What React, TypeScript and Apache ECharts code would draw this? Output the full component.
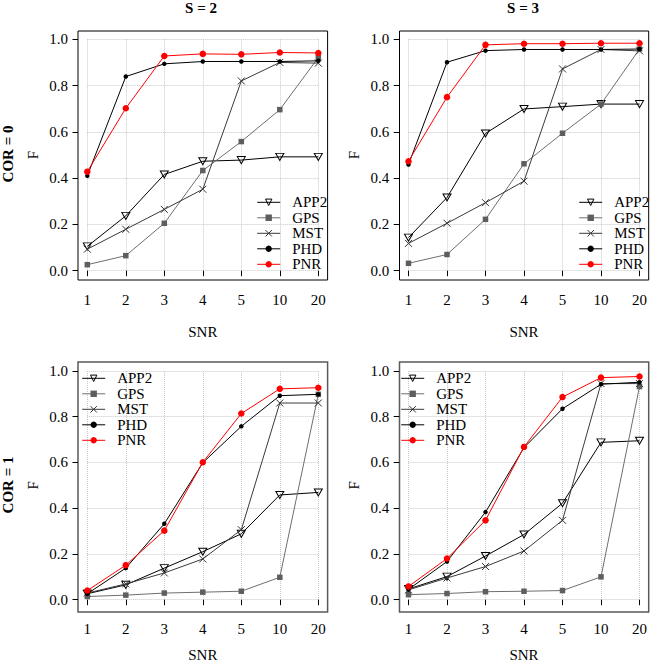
import React, { useEffect, useRef } from "react";
import * as echarts from "echarts";

const snrLabels = ["1", "2", "3", "4", "5", "10", "20"];
const methods = ["APP2", "GPS", "MST", "PHD", "PNR"];
const columnTitles = ["S = 2", "S = 3"];
const rowTitles = ["COR = 0", "COR = 1"];
const yTicks = [0, 0.2, 0.4, 0.6, 0.8, 1.0];

// S = 2, COR = 0
const s2c0APP2 = [0.105, 0.237, 0.416, 0.473, 0.478, 0.492, 0.492];
const s2c0GPS = [0.026, 0.065, 0.205, 0.433, 0.558, 0.696, 0.921];
const s2c0MST = [0.093, 0.179, 0.265, 0.352, 0.82, 0.9, 0.897];
const s2c0PHD = [0.41, 0.839, 0.894, 0.904, 0.904, 0.904, 0.907];
const s2c0PNR = [0.428, 0.702, 0.928, 0.937, 0.935, 0.943, 0.941];

// S = 3, COR = 0
const s3c0APP2 = [0.143, 0.316, 0.593, 0.699, 0.709, 0.72, 0.72];
const s3c0GPS = [0.032, 0.07, 0.222, 0.462, 0.594, 0.72, 0.958];
const s3c0MST = [0.118, 0.205, 0.294, 0.387, 0.872, 0.956, 0.95];
const s3c0PHD = [0.459, 0.901, 0.951, 0.956, 0.956, 0.956, 0.958];
const s3c0PNR = [0.473, 0.75, 0.976, 0.981, 0.981, 0.983, 0.983];

// S = 2, COR = 1
const s2c1APP2 = [0.026, 0.065, 0.138, 0.21, 0.288, 0.458, 0.469];
const s2c1GPS = [0.014, 0.02, 0.029, 0.033, 0.037, 0.098, 0.898];
const s2c1MST = [0.029, 0.069, 0.117, 0.178, 0.306, 0.86, 0.86];
const s2c1PHD = [0.026, 0.138, 0.332, 0.599, 0.758, 0.892, 0.898];
const s2c1PNR = [0.04, 0.151, 0.302, 0.601, 0.814, 0.922, 0.927];

// S = 3, COR = 1
const s3c1APP2 = [0.047, 0.101, 0.191, 0.285, 0.422, 0.688, 0.695];
const s3c1GPS = [0.022, 0.027, 0.035, 0.037, 0.04, 0.1, 0.932];
const s3c1MST = [0.043, 0.095, 0.145, 0.213, 0.347, 0.945, 0.945];
const s3c1PHD = [0.045, 0.167, 0.383, 0.665, 0.835, 0.942, 0.951];
const s3c1PNR = [0.058, 0.18, 0.347, 0.668, 0.886, 0.971, 0.976];

const FONT = "Liberation Serif";

const methodStyle: Record<string, any> = {
  APP2: {
    symbol: "path://M0,0L10,0L5,8.66Z",
    symbolSize: [8, 7],
    itemStyle: { color: "rgba(0,0,0,0)", borderColor: "#000", borderWidth: 1 },
    lineStyle: { color: "#000", width: 1 },
  },
  GPS: {
    symbol: "rect",
    symbolSize: 5.5,
    itemStyle: { color: "#5e5e5e", borderColor: "#5e5e5e", borderWidth: 0 },
    lineStyle: { color: "#6e6e6e", width: 1 },
  },
  MST: {
    symbol: "path://M0,0L10,10M10,0L0,10",
    symbolSize: 7,
    itemStyle: { color: "rgba(0,0,0,0)", borderColor: "#333", borderWidth: 1 },
    lineStyle: { color: "#3a3a3a", width: 1 },
  },
  PHD: {
    symbol: "circle",
    symbolSize: 4.5,
    itemStyle: { color: "#000", borderColor: "#000", borderWidth: 0 },
    lineStyle: { color: "#000", width: 1 },
  },
  PNR: {
    symbol: "circle",
    symbolSize: 6.5,
    itemStyle: { color: "#f00", borderColor: "#f00", borderWidth: 0 },
    lineStyle: { color: "#f00", width: 1 },
  },
};

const panels = [
  {
    values: [s2c0APP2, s2c0GPS, s2c0MST, s2c0PHD, s2c0PNR],
    left: 87.3, top: 39.3, box: [78, 31, 249.6, 249], legend: [256.7, 194.8], snrGap: 44,
    boxColor: "#000", boxWidth: 1,
  },
  {
    values: [s3c0APP2, s3c0GPS, s3c0MST, s3c0PHD, s3c0PNR],
    left: 408.5, top: 39.3, box: [399.5, 31, 249.2, 249], legend: [578.7, 194.8], snrGap: 44,
    boxColor: "#000", boxWidth: 1,
  },
  {
    values: [s2c1APP2, s2c1GPS, s2c1MST, s2c1PHD, s2c1PNR],
    left: 87.3, top: 371, box: [78, 362, 249.6, 250], legend: [81.7, 370.8], snrGap: 38,
    boxColor: "#5a5a5a", boxWidth: 1.5,
  },
  {
    values: [s3c1APP2, s3c1GPS, s3c1MST, s3c1PHD, s3c1PNR],
    left: 408.5, top: 371, box: [399.5, 362, 249.2, 250], legend: [400.7, 370.8], snrGap: 38,
    boxColor: "#5a5a5a", boxWidth: 1.5,
  },
];

export default function App() {
  const ref = useRef<HTMLDivElement>(null);
  useEffect(() => {
    if (!ref.current) return;
    const chart = echarts.init(ref.current, null, { renderer: "svg" });
    const PW = 231;
    const PH = 231.4;
    const grid = panels.map((p) => ({ left: p.left, top: p.top, width: PW, height: PH }));
    const xAxis = panels.map((p, i) => ({
      type: "category",
      gridIndex: i,
      data: snrLabels,
      boundaryGap: false,
      offset: 9.3,
      axisLine: { show: false },
      axisTick: { show: true, length: 5.5, lineStyle: { color: "#000", width: 1 } },
      axisLabel: { margin: 12, fontSize: 15, fontFamily: FONT, color: "#000", interval: 0 },
      splitLine: { show: true, lineStyle: { type: "dotted", color: "#c8c8c8", width: 1 } },
      name: "SNR",
      nameLocation: "middle",
      nameGap: p.snrGap,
      nameTextStyle: { fontSize: 15, fontFamily: FONT, color: "#000" },
    }));
    const yAxis = panels.map((p, i) => ({
      type: "value",
      gridIndex: i,
      min: yTicks[0],
      max: yTicks[yTicks.length - 1],
      interval: 0.2,
      offset: 9.3,
      axisLine: { show: false },
      axisTick: { show: true, length: 5.5, lineStyle: { color: "#000", width: 1 } },
      axisLabel: {
        margin: 10,
        fontSize: 15,
        fontFamily: FONT,
        color: "#000",
        formatter: (v: number) => v.toFixed(1),
      },
      splitLine: { show: true, lineStyle: { type: "dotted", color: "#c8c8c8", width: 1 } },
      name: "F",
      nameLocation: "middle",
      nameGap: 38,
      nameTextStyle: { fontSize: 15, fontFamily: FONT, color: "#000" },
    }));
    const series: any[] = [];
    panels.forEach((p, i) => {
      methods.forEach((m, k) => {
        const st = methodStyle[m];
        series.push({
          type: "line",
          name: m,
          xAxisIndex: i,
          yAxisIndex: i,
          data: p.values[k],
          symbol: st.symbol,
          symbolSize: st.symbolSize,
          showSymbol: true,
          showAllSymbol: true,
          itemStyle: st.itemStyle,
          lineStyle: st.lineStyle,
          silent: true,
          z: 2 + k,
        });
      });
    });
    const legendData = methods.map((m) => ({
      name: m,
      itemStyle: { ...methodStyle[m].itemStyle },
      lineStyle: { ...methodStyle[m].lineStyle },
    }));
    const legend = panels.map((p) => ({
      data: legendData,
      orient: "vertical",
      left: p.legend[0],
      top: p.legend[1],
      itemWidth: 23,
      itemHeight: 8,
      itemGap: 0.5,
      padding: 0,
      selectedMode: false,
      textStyle: {
        fontSize: 15,
        lineHeight: 15,
        fontFamily: FONT,
        color: "#000",
        padding: [0, 0, 0, 7],
      },
    }));
    const title = columnTitles.map((t, i) => ({
      text: t,
      left: i === 0 ? 201 : 523,
      top: 0,
      textAlign: "center",
      padding: 0,
      textStyle: { fontSize: 15, fontWeight: "bold", fontFamily: FONT, color: "#000" },
    }));
    const graphic: any[] = panels.map((p) => ({
      type: "rect",
      shape: { x: p.box[0], y: p.box[1], width: p.box[2], height: p.box[3] },
      style: { fill: "none", stroke: p.boxColor, lineWidth: p.boxWidth },
      silent: true,
    }));
    rowTitles.forEach((t, i) => {
      graphic.push({
        type: "text",
        x: 7.5,
        y: i === 0 ? 154 : 485,
        rotation: Math.PI / 2,
        style: {
          text: t,
          fontSize: 15,
          fontWeight: "bold",
          fontFamily: FONT,
          fill: "#000",
          align: "center",
          verticalAlign: "middle",
        },
      });
    });
    chart.setOption({
      animation: false,
      backgroundColor: "#fff",
      title,
      grid,
      xAxis,
      yAxis,
      legend,
      series,
      graphic,
    });
    return () => chart.dispose();
  }, []);
  return (
    <div
      ref={ref}
      style={{ position: "fixed", left: 0, top: 0, width: 650, height: 663 }}
    />
  );
}
